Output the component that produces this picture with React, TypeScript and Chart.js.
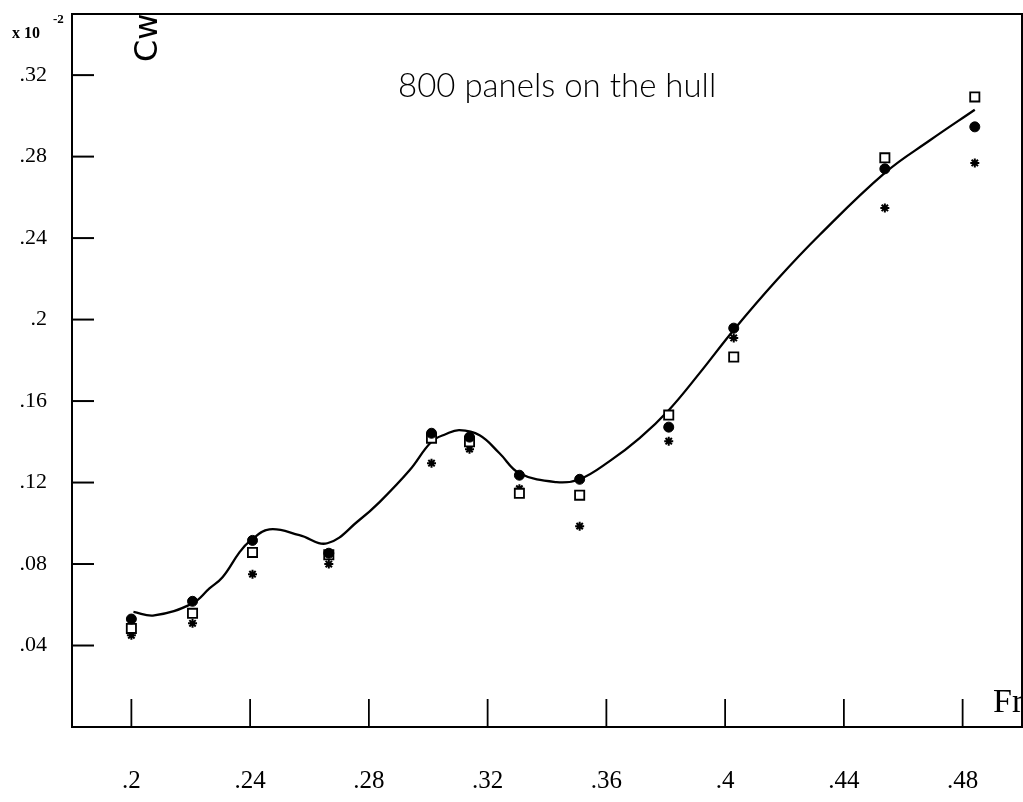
import React, { useEffect, useRef } from "react";
import { Chart, registerables } from "chart.js";
Chart.register(...registerables);

// Measured points (Froude number vs wave resistance coefficient, x 10^-2)
const frPoints = [0.2, 0.2206, 0.2408, 0.2665, 0.3011, 0.3139, 0.3307, 0.351, 0.381, 0.4029, 0.4538, 0.4841];
const cwFilled = [0.053, 0.0617, 0.0916, 0.0853, 0.1442, 0.1423, 0.1236, 0.1216, 0.1472, 0.1958, 0.274, 0.2946];
const cwSquare = [0.0484, 0.0558, 0.0857, 0.0845, 0.1418, 0.14, 0.1147, 0.1138, 0.1531, 0.1816, 0.2794, 0.3093];
const cwStar = [0.045, 0.0509, 0.075, 0.08, 0.1295, 0.1364, 0.117, 0.0986, 0.1403, 0.191, 0.2548, 0.2769];

// Smooth curve
const curveFr = [0.2007, 0.2077, 0.2206, 0.2263, 0.2307, 0.2364, 0.2398, 0.2465, 0.2566, 0.266, 0.2768, 0.2836, 0.2937, 0.3011, 0.306, 0.3105, 0.3173, 0.324, 0.3307, 0.3432, 0.351, 0.3611, 0.3712, 0.381, 0.3914, 0.4029, 0.4174, 0.4318, 0.4538, 0.469, 0.4841];
const curveCw = [0.0565, 0.0548, 0.0607, 0.068, 0.0735, 0.0857, 0.0911, 0.097, 0.0942, 0.0902, 0.1016, 0.1104, 0.126, 0.14, 0.1438, 0.1457, 0.1432, 0.1344, 0.1246, 0.1202, 0.1216, 0.1305, 0.1418, 0.1555, 0.1737, 0.1949, 0.2194, 0.2415, 0.272, 0.288, 0.303];

const xTicks = [0.2, 0.24, 0.28, 0.32, 0.36, 0.4, 0.44, 0.48];
const yTicks = [0.04, 0.08, 0.12, 0.16, 0.2, 0.24, 0.28, 0.32];

const titleText = "800 panels on the hull";
const yAxisText = "Cw";
const xAxisText = "Fr";
const scaleText = "x 10";
const scaleExp = "-2";

const fmt = (v: number) => {
  let s = (Math.round(v * 100) / 100).toFixed(2);
  s = s.replace(/0+$/, "");
  return s.replace(/^0/, "");
};

const zip = (xs: number[], ys: number[]) => xs.map((x, i) => ({ x, y: ys[i] }));

const decor = {
  id: "decor",
  afterDraw(chart: any) {
    const { ctx, chartArea, scales } = chart;
    const { left, right, top, bottom } = chartArea;
    ctx.save();
    ctx.strokeStyle = "#000";
    ctx.lineWidth = 2;
    ctx.strokeRect(left, top, right - left, bottom - top);
    // inner ticks
    ctx.lineWidth = 2;
    yTicks.forEach((v) => {
      const y = scales.y.getPixelForValue(v);
      ctx.beginPath();
      ctx.moveTo(left, y);
      ctx.lineTo(left + 22, y);
      ctx.stroke();
    });
    ctx.lineWidth = 1.8;
    xTicks.forEach((v) => {
      const x = scales.x.getPixelForValue(v);
      ctx.beginPath();
      ctx.moveTo(x, bottom);
      ctx.lineTo(x, bottom - 28);
      ctx.stroke();
    });
    ctx.fillStyle = "#000";
    // title
    ctx.font = '300 33px Lato';
    ctx.textAlign = "left";
    ctx.textBaseline = "alphabetic";
    ctx.fillText(titleText, 398, 97);
    // Fr
    ctx.font = '34px "Liberation Serif"';
    ctx.fillText(xAxisText, 993, 712);
    // x 10^-2
    ctx.font = 'bold 16px "Liberation Serif"';
    ctx.fillText(scaleText, 12, 38);
    ctx.font = 'bold 13px "Liberation Serif"';
    ctx.fillText(scaleExp, 53, 23);
    // Cw rotated, clipped by the frame
    ctx.save();
    ctx.beginPath();
    ctx.rect(left, top, right - left, bottom - top);
    ctx.clip();
    ctx.translate(157, 62);
    ctx.rotate(-Math.PI / 2);
    ctx.font = '32px "DejaVu Sans"';
    ctx.fillText(yAxisText, 0, 0);
    ctx.restore();
    ctx.restore();
  },
};

export default function App() {
  const ref = useRef<HTMLCanvasElement>(null);
  useEffect(() => {
    if (!ref.current) return;
    const chart = new Chart(ref.current, {
      type: "scatter",
      data: {
        datasets: [
          {
            label: "filled",
            data: zip(frPoints, cwFilled),
            pointStyle: "circle",
            pointRadius: 5,
            backgroundColor: "#000",
            borderColor: "#000",
            borderWidth: 1,
          },
          {
            label: "square",
            data: zip(frPoints, cwSquare),
            pointStyle: "rect",
            pointRadius: 6.5,
            backgroundColor: "#fff",
            borderColor: "#000",
            borderWidth: 1.8,
          },
          {
            label: "star",
            data: zip(frPoints, cwStar),
            pointStyle: "star",
            pointRadius: 4.5,
            backgroundColor: "#000",
            borderColor: "#000",
            borderWidth: 2,
          },
          {
            label: "curve",
            data: zip(curveFr, curveCw),
            showLine: true,
            pointRadius: 0,
            borderColor: "#000",
            borderWidth: 2.3,
            tension: 0.4,
            fill: false,
          } as any,
        ],
      },
      options: {
        animation: false,
        responsive: false,
        layout: { autoPadding: false, padding: { top: 14, right: 1, left: 0, bottom: 0 } },
        plugins: { legend: { display: false }, tooltip: { enabled: false } },
        scales: {
          x: {
            type: "linear",
            min: 0.18,
            max: 0.5,
            grid: { display: false, drawTicks: false },
            border: { display: false },
            afterBuildTicks: (s: any) => {
              s.ticks = xTicks.map((v) => ({ value: v }));
            },
            afterFit: (s: any) => {
              s.height = 75;
              s.paddingLeft = 0;
              s.paddingRight = 0;
              s.paddingTop = 0;
              s.paddingBottom = 0;
            },
            ticks: {
              padding: 39,
              color: "#000",
              font: { family: '"Liberation Serif"', size: 25 },
              maxRotation: 0,
              autoSkip: false,
              callback: (v: any) => fmt(Number(v)),
            },
          },
          y: {
            type: "linear",
            min: 0,
            max: 0.35,
            grid: { display: false, drawTicks: false },
            border: { display: false },
            afterBuildTicks: (s: any) => {
              s.ticks = yTicks.map((v) => ({ value: v }));
            },
            afterFit: (s: any) => {
              s.width = 72;
              s.paddingLeft = 0;
              s.paddingRight = 0;
              s.paddingTop = 0;
              s.paddingBottom = 0;
            },
            ticks: {
              padding: 25,
              color: "#000",
              autoSkip: false,
              font: { family: '"Liberation Serif"', size: 22 },
              callback: (v: any) => fmt(Number(v)),
            },
          },
        },
      },
      plugins: [decor],
    });
    return () => chart.destroy();
  }, []);
  return (
    <div style={{ position: "absolute", left: 0, top: 0, width: 1023, height: 802, background: "#fff" }}>
      <canvas ref={ref} width={1023} height={802} style={{ display: "block" }} />
    </div>
  );
}
